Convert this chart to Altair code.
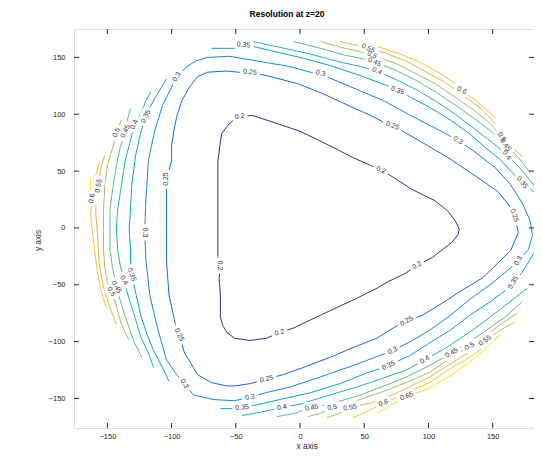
import altair as alt
import pandas as pd

# contour levels and their colours (parula-like)
levels = ["0.2", "0.25", "0.3", "0.35", "0.4", "0.45", "0.5", "0.55", "0.6", "0.65"]
level_colors = ["#3b2c93", "#1466e2", "#1586d8", "#0aa2cd", "#24b2ae", "#5fbc8b",
                "#a8bd69", "#e3b54a", "#f8c430", "#f5e41c"]

x_ticks = [-150, -100, -50, 0, 50, 100, 150]
y_ticks = [-150, -100, -50, 0, 50, 100, 150]

# contour pieces, [x, y] in data units
c020 = [[-47, 98], [-37, 99], [-13, 90], [0, 85], [13, 78], [29, 69], [41, 62], [55, 55], [63, 51],
        [72, 45], [87, 34], [105, 24], [115, 15], [121, 6], [124, -1], [123, -6], [118, -13],
        [111, -19], [103, -26], [91, -33], [82, -40], [69, -47], [60, -53], [44, -62], [23, -73],
        [8, -81], [-5, -88], [-16, -92], [-26, -97], [-39, -99], [-51, -97], [-57, -92], [-60, -86],
        [-62, -79], [-62, -59], [-63, -44], [-62, -33], [-64, -25], [-64, 0], [-64, 58], [-62, 76],
        [-61, 83], [-57, 89], [-54, 93], [-47, 98]]
c025 = [[-39, 137], [-26, 134], [-2, 127], [18, 118], [39, 107], [55, 99], [65, 93], [72, 90],
        [80, 85], [100, 72], [115, 62], [131, 50], [144, 40], [154, 32], [162, 21], [167, 11],
        [170, -4], [164, -20], [154, -31], [142, -44], [126, -55], [111, -66], [95, -77], [83, -82],
        [74, -87], [60, -97], [44, -104], [23, -114], [2, -123], [-13, -129], [-26, -133],
        [-39, -137], [-51, -139], [-57, -139], [-69, -136], [-80, -129], [-86, -117], [-90, -110],
        [-94, -94], [-97, -85], [-102, -59], [-104, -29], [-104, -1], [-104, 33], [-104, 43],
        [-100, 59], [-100, 72], [-98, 87], [-96, 98], [-92, 112], [-86, 124], [-80, 133],
        [-72, 137], [-57, 138], [-48, 137], [-39, 137]]
c030 = [[-96, 133], [-88, 142], [-81, 147], [-72, 150], [-55, 151], [-29, 146], [-8, 142],
        [8, 137], [16, 136], [25, 131], [44, 122], [65, 112], [86, 99], [105, 88], [123, 77],
        [136, 67], [152, 53], [164, 38], [173, 22], [179, 7], [181, -6], [178, -19], [170, -29],
        [160, -39], [148, -50], [132, -63], [117, -77], [101, -90], [86, -100], [72, -108],
        [58, -114], [39, -122], [16, -131], [-8, -140], [-27, -145], [-39, -149], [-51, -152],
        [-67, -151], [-83, -147], [-90, -137], [-96, -129], [-104, -116], [-111, -88],
        [-117, -59], [-120, -28], [-121, -4], [-120, 25], [-118, 60], [-113, 86], [-107, 108],
        [-100, 124], [-96, 133]]
c035_a = [[-62, -159], [-55, -159], [-45, -158], [-35, -156], [-16, -151], [8, -145], [31, -137],
          [51, -128], [69, -121], [86, -112], [101, -101], [117, -90], [132, -77], [148, -65],
          [160, -55], [166, -48], [173, -39], [179, -28], [185, -17], [191, -4], [193, 11],
          [187, 26], [179, 35], [173, 40], [165, 49], [156, 60], [144, 71], [132, 83], [117, 95],
          [101, 106], [86, 115], [76, 121], [66, 126], [47, 134], [23, 143], [0, 150], [-23, 156],
          [-34, 159], [-44, 161], [-51, 158], [-69, 158]]
c035_b = [[-104, 131], [-112, 116], [-117, 106], [-120, 98], [-124, 84], [-128, 64], [-131, 38],
          [-132, 16], [-133, 0], [-132, -19], [-132, -29], [-131, -41], [-128, -57], [-124, -77],
          [-119, -94], [-114, -108], [-107, -123], [-102, -135]]
c040_top = [[-37, 164], [-16, 159], [8, 153], [31, 146], [47, 142], [60, 138], [74, 131], [90, 122],
            [105, 112], [121, 100], [136, 87], [150, 75], [161, 64], [171, 53], [179, 42],
            [188, 29], [195, 16]]
c040_bot = [[-45, -165], [-30, -162], [-14, -158], [0, -155], [23, -147], [47, -139], [70, -130],
            [83, -125], [97, -116], [113, -106], [129, -94], [144, -82], [160, -68], [177, -53]]
c040_left = [[-116, 120], [-120, 112], [-123, 103], [-129, 91], [-132, 77], [-136, 60], [-139, 38],
             [-142, 16], [-143, 0], [-142, -19], [-140, -33], [-137, -46], [-134, -59],
             [-129, -77], [-124, -96], [-118, -110], [-114, -123]]
c045_top = [[-5, 164], [16, 158], [35, 152], [48, 149], [58, 146], [74, 139], [90, 130], [105, 120],
            [121, 108], [136, 96], [150, 84], [160, 73], [170, 62], [179, 49]]
c045_bot = [[-18, -166], [-4, -163], [9, -158], [23, -155], [47, -147], [70, -137], [83, -131],
            [101, -121], [118, -110], [132, -100], [144, -91], [160, -78], [173, -65]]
c045_left = [[-132, 105], [-134, 97], [-136, 85], [-140, 71], [-143, 55], [-146, 33], [-148, 16],
             [-148, 0], [-148, -19], [-146, -35], [-143, -51], [-139, -68], [-134, -85],
             [-129, -101], [-123, -114]]
c050_top = [[16, 164], [35, 158], [47, 155], [56, 152], [74, 145], [90, 136], [105, 127],
            [121, 115], [136, 103], [148, 92], [157, 80], [165, 71], [173, 63]]
c050_bot = [[6, -166], [16, -163], [25, -158], [39, -154], [62, -145], [83, -136], [101, -127],
            [118, -114], [132, -104], [144, -95], [156, -85], [169, -75]]
c050_left = [[-139, 95], [-143, 84], [-146, 70], [-150, 55], [-152, 38], [-153, 16], [-153, 0],
             [-153, -19], [-152, -35], [-150, -48], [-146, -56], [-143, -69], [-139, -85],
             [-133, -99]]
c055_top = [[31, 164], [43, 161], [53, 158], [66, 154], [82, 147], [97, 138], [113, 128],
            [129, 115], [142, 104], [152, 92]]
c055_bot = [[21, -167], [31, -163], [39, -158], [55, -154], [74, -146], [83, -141], [101, -131],
            [118, -119], [132, -109], [144, -99], [156, -90], [167, -83]]
c055_left = [[-152, 64], [-155, 53], [-157, 37], [-159, 25], [-159, 11], [-158, 0], [-157, -19],
             [-156, -35], [-153, -52], [-148, -70], [-143, -85]]
c060_top = [[47, 163], [62, 159], [78, 153], [93, 146], [109, 136], [121, 127], [126, 121],
            [136, 113], [144, 105], [152, 97]]
c060_bot = [[41, -167], [55, -160], [65, -154], [74, -150], [83, -145], [101, -136], [118, -123],
            [132, -114], [144, -104], [156, -94]]
c060_left = [[-156, 58], [-160, 42], [-162, 26], [-163, 11], [-162, 0], [-160, -19], [-158, -37],
             [-155, -55], [-151, -70]]
c065_bot = [[60, -163], [72, -155], [83, -148], [99, -142], [117, -130], [132, -118], [144, -107],
            [153, -97]]
c065_left = [[-163, 44], [-163, 33]]

pieces = [
    ("0.2", c020), ("0.25", c025), ("0.3", c030),
    ("0.35", c035_a), ("0.35", c035_b),
    ("0.4", c040_top), ("0.4", c040_bot), ("0.4", c040_left),
    ("0.45", c045_top), ("0.45", c045_bot), ("0.45", c045_left),
    ("0.5", c050_top), ("0.5", c050_bot), ("0.5", c050_left),
    ("0.55", c055_top), ("0.55", c055_bot), ("0.55", c055_left),
    ("0.6", c060_top), ("0.6", c060_bot), ("0.6", c060_left),
    ("0.65", c065_bot), ("0.65", c065_left),
]

# inline labels: x, y, text, angle (degrees, clockwise)
label_x = [-47, 63, 91, -16, -62,
           -39, 72, 167, 83, -26, -94, -104,
           -96, 16, 123, 170, 72, -39, -90, -121,
           -44, 76, 173, 166, 69, -45, -131, -120,
           60, 161, 97, -14, -137, -129,
           58, 160, 118, 9, -143, -136,
           56, 157, 132, 25, -147, -143,
           53, 144, 39, -157,
           126, 65, -162,
           83]
label_y = [98, 51, -33, -92, -33,
           137, 90, 11, -82, -133, -94, 43,
           133, 136, 77, -29, -108, -149, -137, -4,
           161, 121, 40, -48, -121, -158, -41, 98,
           138, 64, -116, -158, -46, 91,
           146, 73, -110, -158, -52, 85,
           152, 80, -104, -158, -56, 84,
           158, -99, -158, 37,
           121, -154, 26,
           -148]
label_text = ["0.2"] * 5 + ["0.25"] * 7 + ["0.3"] * 8 + ["0.35"] * 8 + ["0.4"] * 6 + \
             ["0.45"] * 6 + ["0.5"] * 6 + ["0.55"] * 4 + ["0.6"] * 3 + ["0.65"]
label_angle = [350, 25, 330, 345, 90,
               5, 22, 70, 330, 345, 65, 270,
               300, 15, 35, 300, 335, 350, 60, 90,
               5, 20, 50, 300, 335, 355, 70, 295,
               25, 55, 330, 350, 60, 295,
               25, 55, 330, 350, 60, 295,
               25, 55, 330, 350, 60, 295,
               25, 325, 350, 280,
               30, 340, 280,
               340]

rows = []
for pid, (lev, pts) in enumerate(pieces):
    for i, (px, py) in enumerate(pts):
        rows.append({"piece": pid, "i": i, "level": lev, "x": px, "y": py})
lines_df = pd.DataFrame(rows)
labels_df = pd.DataFrame({"x": label_x, "y": label_y, "text": label_text, "angle": label_angle})
xt_df = pd.DataFrame({"x": x_ticks})
yt_df = pd.DataFrame({"y": y_ticks})

W, H = 460, 399
FONT = "Liberation Sans"
TXT = "#262626"
xs = alt.Scale(domain=[-176, 182.2], nice=False, zero=False)
ys = alt.Scale(domain=[-176, 175], nice=False, zero=False)

x_axis = alt.Axis(values=x_ticks, title="x axis", ticks=False, domain=False, grid=False,
                  labelPadding=4, labelFont=FONT, labelFontSize=7.5, labelColor=TXT,
                  titleFont=FONT, titleFontSize=8.3, titleFontWeight="normal", titleColor=TXT,
                  titleX=232.7, titleY=18, titleBaseline="middle", titleAlign="center")
y_axis = alt.Axis(values=y_ticks, title="y axis", ticks=False, domain=False, grid=False,
                  labelPadding=9, labelFont=FONT, labelFontSize=7.5, labelColor=TXT,
                  titleFont=FONT, titleFontSize=8.3, titleFontWeight="normal", titleColor=TXT,
                  titleAngle=270, titleX=-36, titleY=211, titleBaseline="middle",
                  titleAlign="center")

lines = alt.Chart(lines_df).mark_line(strokeWidth=1, clip=True).encode(
    x=alt.X("x:Q", scale=xs, axis=x_axis),
    y=alt.Y("y:Q", scale=ys, axis=y_axis),
    color=alt.Color("level:N", scale=alt.Scale(domain=levels, range=level_colors), legend=None),
    detail="piece:N",
    order=alt.Order("i:Q"),
)

halo = alt.Chart(labels_df).mark_text(
    font=FONT, fontSize=7, color="white", stroke="white", strokeWidth=7,
    strokeJoin="round", align="center", baseline="middle", clip=True,
).encode(
    x=alt.X("x:Q", scale=xs), y=alt.Y("y:Q", scale=ys),
    text="text:N", angle=alt.Angle("angle:Q", scale=None),
)

texts = alt.Chart(labels_df).mark_text(
    font=FONT, fontSize=7, color="#333333", align="center", baseline="middle", clip=True,
).encode(
    x=alt.X("x:Q", scale=xs), y=alt.Y("y:Q", scale=ys),
    text="text:N", angle=alt.Angle("angle:Q", scale=None),
)

tick_style = dict(color=TXT, strokeWidth=1)
t_bottom = alt.Chart(xt_df).mark_rule(**tick_style).encode(
    x=alt.X("x:Q", scale=xs), y=alt.value(H), y2=alt.value(H - 5))
t_top = alt.Chart(xt_df).mark_rule(**tick_style).encode(
    x=alt.X("x:Q", scale=xs), y=alt.value(0), y2=alt.value(5))
t_left = alt.Chart(yt_df).mark_rule(**tick_style).encode(
    y=alt.Y("y:Q", scale=ys), x=alt.value(0), x2=alt.value(5))
t_right = alt.Chart(yt_df).mark_rule(**tick_style).encode(
    y=alt.Y("y:Q", scale=ys), x=alt.value(W), x2=alt.value(W - 5))

chart = alt.layer(lines, halo, texts, t_bottom, t_top, t_left, t_right).properties(
    width=W, height=H,
    padding={"left": 66, "top": 21, "right": 0, "bottom": 23},
    autosize=alt.AutoSizeParams(type="none"),
    title=alt.TitleParams("Resolution at z=20", font=FONT, fontSize=8.5, fontWeight="bold",
                          color="#000000", anchor="middle", dx=-17, offset=6,
                          baseline="middle"),
).configure_view(stroke=TXT, strokeWidth=1).configure(background="white")

chart.save("out.html", embed_options={"renderer": "svg", "actions": False})
